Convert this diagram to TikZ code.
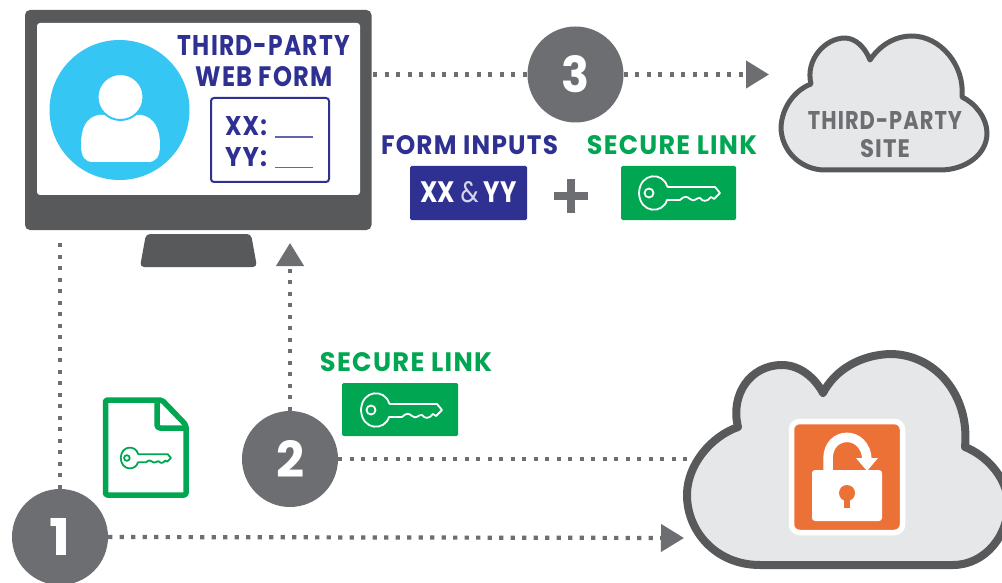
\documentclass[tikz,border=0pt]{standalone}
\usepackage{fontspec}
\usepackage{graphicx}
\setmainfont{Poppins}
\usetikzlibrary{arrows.meta}
\definecolor{navy}{HTML}{2E3192}
\definecolor{grn}{HTML}{00A651}
\definecolor{dark}{HTML}{58595B}
\definecolor{mid}{HTML}{6D6E71}
\definecolor{sky}{HTML}{35C6F4}
\definecolor{pale}{HTML}{E6E7E8}
\definecolor{org}{HTML}{EC7136}
\newcommand{\fittext}[3]{\resizebox{#1pt}{#2pt}{\bfseries\addfontfeature{LetterSpace=5}#3}}
\tikzset{
  x=1pt,y=-1pt,
  dotline/.style={draw=mid,line width=4.2pt,dash pattern=on 4.2pt off 7.3pt},
  tip/.style={-{Triangle[length=23pt,width=27pt,color=mid]}},
  stepnode/.style={circle,fill=mid,minimum size=96pt,inner sep=0pt,text=white},
  cloudshape/.style={fill=pale,draw=dark,line join=round},
  label/.style={inner sep=0pt,outer sep=0pt},
  keyicon/.pic={
    \draw[pic actions,fill=none,line join=round]
      (13,-7) .. controls (9,-21) and (-14,-21) .. (-15,0)
      .. controls (-14,21) and (9,21) .. (13,7) -- (26,7)
      .. controls (30,3) and (33,3) .. (36,6) .. controls (40,10) and (43,4) .. (46,5)
      .. controls (49,9) and (53,9) .. (57,4) -- (60,6) -- (66,0) -- (61,-6) -- (14,-6) -- cycle;
    \draw[pic actions,fill=none] (-5,0) circle[radius=4.5];
  }
}
\begin{document}
\begin{tikzpicture}
\useasboundingbox (0,0) rectangle (1002,583);
\clip (0,0) rectangle (1002,583);
\fill[white] (0,0) rectangle (1002,583);

% monitor
\node[draw=none,fill=dark,rounded corners=5pt,minimum width=346.5pt,minimum height=220pt,inner sep=0pt] (monitor) at (198.25,120) {};
\node[fill=white,rounded corners=3pt,minimum width=323pt,minimum height=172pt,inner sep=0pt] (screen) at (198.5,109) {};
\fill[dark,rounded corners=4pt] (146,234) -- (251,234) -- (257,267) -- (140,267) -- cycle;
% person
\node[circle,fill=sky,minimum size=140pt,inner sep=0pt] (avatar) at (119.5,110) {};
\fill[white] (81,145) .. controls (81,128) and (86,118) .. (98,115) -- (142,115)
  .. controls (154,118) and (160,128) .. (160,145) .. controls (160,157) and (156,162) .. (148,162)
  -- (93,162) .. controls (85,162) and (81,157) .. (81,145) -- cycle;
\node[circle,fill=white,draw=sky,line width=2pt,minimum size=46pt,inner sep=0pt] (head) at (120.5,97) {};
% form
\node[label,text=navy] (title1) at (264,46) {\fittext{172}{20}{THIRD-PARTY}};
\node[label,text=navy] (title2) at (264,77) {\fittext{137}{20}{WEB FORM}};
\node[draw=navy,line width=2pt,rounded corners=3pt,minimum width=118pt,minimum height=84pt,inner sep=0pt] (formbox) at (270,140) {};
\node[label,text=navy,anchor=west] (xx) at (225,126) {\fittext{42}{19}{XX:}};
\node[label,text=navy,anchor=west] (yy) at (225,157) {\fittext{42}{19}{YY:}};
\node[label,fill=navy!75,minimum width=38pt,minimum height=1.3pt] (xxline) at (293.5,137) {};
\node[label,fill=navy!75,minimum width=38pt,minimum height=1.3pt] (yyline) at (293.5,167.5) {};

% step circles
\node[stepnode] (step1) at (60,537) {\fittext{21}{37}{1}};
\node[stepnode] (step2) at (290,459) {\fittext{28}{37}{2}};
\node[stepnode] (step3) at (575.5,74.5) {\fittext{28}{37}{3}};

% clouds
\path[cloudshape,line width=5pt] (870,60) .. controls (880,45) and (895,36) .. (912,36)
  .. controls (940,36) and (965,65) .. (962,97)
  .. controls (975,103) and (987,118) .. (987,133)
  .. controls (987,155) and (965,170) .. (940,170) -- (825,170)
  .. controls (800,170) and (781,150) .. (781,127)
  .. controls (782,107) and (795,90) .. (811,84)
  .. controls (805,60) and (825,38) .. (845,38)
  .. controls (855,38) and (865,47) .. (870,60) -- cycle;
\node[label,text=mid] (site1) at (885,121) {\fittext{154}{18}{THIRD-PARTY}};
\node[label,text=mid] (site2) at (885,148.5) {\fittext{50}{18}{SITE}};
\coordinate (smallcloudin) at (769,74.5);

\path[cloudshape,line width=8pt] (823,393) .. controls (835,370) and (860,355) .. (890,354)
  .. controls (935,354) and (970,395) .. (965,447)
  .. controls (985,455) and (1005,475) .. (1008,500)
  .. controls (1010,535) and (985,565) .. (953,565) -- (760,565)
  .. controls (715,565) and (686,530) .. (687,493)
  .. controls (688,465) and (710,437) .. (738,427)
  .. controls (730,395) and (750,365) .. (782,365)
  .. controls (800,365) and (815,378) .. (823,393) -- cycle;
\coordinate (bigcloudin) at (684,538);
\coordinate (bigcloudside) at (689,459);

% lock
\node[fill=org,draw=white,line width=5.5pt,rounded corners=8pt,minimum width=111pt,minimum height=111pt,inner sep=0pt] (lockbox) at (847,477) {};
\draw[white,line width=9.5pt] (828,472) -- (828,459) .. controls (828,430) and (866,430) .. (867,460);
\fill[white] (856,458) -- (878,458) -- (867,471) -- cycle;
\fill[white,rounded corners=3pt] (812,470) rectangle (882,521);
\fill[org] (847,493) circle[radius=8];
\fill[org] (844,495) rectangle (850,508);

% connectors
\coordinate (monitorbelow) at (60,236);
\coordinate (monitorin) at (290,243);
\coordinate (monitorright) at (373,74.5);
\draw[dotline] (step1.north) -- (monitorbelow);
\draw[dotline,tip] (step2.north) -- (monitorin);
\draw[dotline] (monitorright) -- (step3.west);
\draw[dotline,tip] (step3.east) -- (smallcloudin);
\draw[dotline] (step2.east) -- (bigcloudside);
\draw[dotline,tip] (step1.east) -- (bigcloudin);

% form inputs and secure link
\node[label,text=navy] (inputslabel) at (469.5,145) {\fittext{177}{19}{FORM INPUTS}};
\node[label,text=grn] (linklabel) at (672,145) {\fittext{170}{19}{SECURE LINK}};
\node[fill=navy,rounded corners=1.5pt,minimum width=117pt,minimum height=54pt,inner sep=0pt] (xxyy) at (468.5,193) {};
\node[label,text=white] (xxyytext) at (468.5,192.5) {\resizebox{96pt}{21pt}{\bfseries XX \textcolor{white!80!navy}{\mdseries\&} YY}};
\node[label,fill=mid,minimum width=34pt,minimum height=8pt] (plush) at (571,196) {};
\node[label,fill=mid,minimum width=8pt,minimum height=34pt] (plusv) at (571,196) {};
\node[fill=grn,rounded corners=1.5pt,minimum width=115pt,minimum height=54pt,inner sep=0pt] (linkbox) at (678.5,193) {};
\pic[draw=white,line width=1.8pt] at (654,193) {keyicon};

% lower secure link
\node[label,text=grn] (linklabel2) at (406,362) {\fittext{172}{19}{SECURE LINK}};
\node[fill=grn,rounded corners=1.5pt,minimum width=116pt,minimum height=53pt,inner sep=0pt] (linkbox2) at (400,409.5) {};
\pic[draw=white,line width=1.8pt] at (376,410) {keyicon};

% file
\draw[grn,line width=5.5pt,line join=round,rounded corners=2pt] (105.5,400) -- (162,400) -- (186,425) -- (186,495) -- (105.5,495) -- cycle;
\draw[grn,line width=5.5pt,line join=round,rounded corners=3pt] (157,400) -- (157,428) -- (186,428);
\pic[draw=grn,line width=1.8pt,scale=0.62] at (130,458) {keyicon};
\end{tikzpicture}
\end{document}
